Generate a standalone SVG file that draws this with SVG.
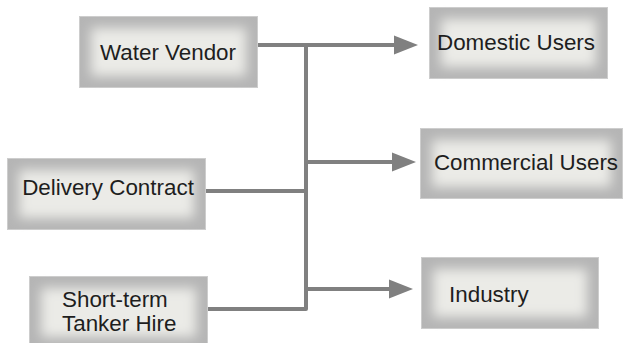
<svg xmlns="http://www.w3.org/2000/svg" width="628" height="343" viewBox="0 0 628 343">
  <defs>
    <filter id="soft" x="-50%" y="-50%" width="200%" height="200%">
      <feGaussianBlur stdDeviation="6"/>
    </filter>
    <marker id="arrow" markerUnits="userSpaceOnUse" markerWidth="24" markerHeight="20" refX="0" refY="10" orient="auto">
      <path d="M0,0.5 L24,10 L0,19.5 Z" fill="#808080"/>
    </marker>
    <style>
      .frame { fill: #b5b5b5; stroke: #cdcdcd; stroke-width: 1; }
      .glow { fill: #ebebe7; filter: url(#soft); }
      .label { font-family: "Liberation Sans", Arial, sans-serif; font-size: 22.4px; fill: #1e1e1e; }
      .mid { text-anchor: middle; }
      .wire { fill: none; stroke: #808080; stroke-width: 4; stroke-linejoin: round; }
    </style>
  </defs>
  <rect width="628" height="343" fill="#ffffff"/>

  <!-- connectors -->
  <g id="connectors">
    <path class="wire" d="M258,45 H306 V309 H208"/>
    <path class="wire" d="M206,191 H306"/>
    <path class="wire" d="M306,45 H394" marker-end="url(#arrow)"/>
    <path class="wire" d="M306,162 H392" marker-end="url(#arrow)"/>
    <path class="wire" d="M306,289 H389" marker-end="url(#arrow)"/>
  </g>

  <!-- source nodes -->
  <g id="water-vendor">
    <rect class="frame" x="79.5" y="16.5" width="178" height="71"/>
    <rect class="glow" x="91" y="28" width="155" height="48"/>
    <text class="label mid" x="168" y="60">Water Vendor</text>
  </g>
  <g id="delivery-contract">
    <rect class="frame" x="7.5" y="158.5" width="198" height="71"/>
    <rect class="glow" x="19" y="170" width="175" height="48"/>
    <text class="label mid" x="108" y="195">Delivery Contract</text>
  </g>
  <g id="short-term-tanker-hire">
    <rect class="frame" x="29.5" y="276.5" width="178" height="72"/>
    <rect class="glow" x="41" y="288" width="155" height="49"/>
    <text class="label" x="62" y="307">Short-term</text>
    <text class="label" x="62" y="331">Tanker Hire</text>
  </g>

  <!-- user nodes -->
  <g id="domestic-users">
    <rect class="frame" x="429.5" y="7.5" width="178" height="71"/>
    <rect class="glow" x="441" y="19" width="155" height="48"/>
    <text class="label mid" x="516" y="50">Domestic Users</text>
  </g>
  <g id="commercial-users">
    <rect class="frame" x="420.5" y="128.5" width="202" height="70"/>
    <rect class="glow" x="432" y="140" width="179" height="47"/>
    <text class="label mid" x="526" y="170">Commercial Users</text>
  </g>
  <g id="industry">
    <rect class="frame" x="421.5" y="257.5" width="177" height="71"/>
    <rect class="glow" x="433" y="269" width="154" height="48"/>
    <text class="label" x="449" y="302">Industry</text>
  </g>
</svg>
